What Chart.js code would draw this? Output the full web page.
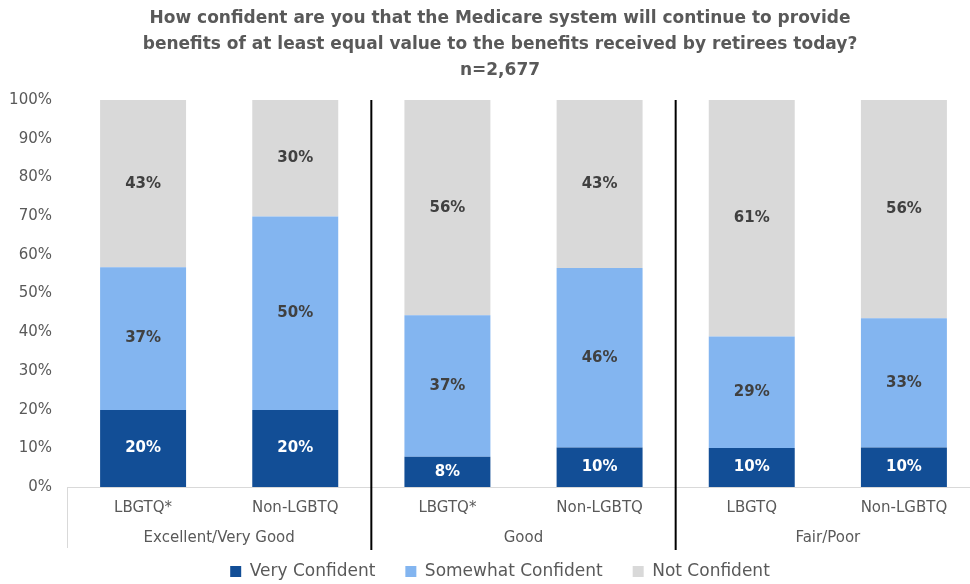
<!DOCTYPE html>
<html>
<head>
<meta charset="utf-8">
<script src="https://cdn.jsdelivr.net/npm/chart.js@4"></script>
<style>
  html, body { margin: 0; padding: 0; overflow: hidden; background: #fff; }
  #wrap { width: 980px; height: 584px; }
</style>
</head>
<body>
<div id="wrap"><canvas id="confChart"></canvas></div>
<script>
const categories = ["LBGTQ*", "Non-LGBTQ", "LBGTQ*", "Non-LGBTQ", "LBGTQ", "Non-LGBTQ"];
const groups = ["Excellent/Very Good", "Good", "Fair/Poor"];
const veryConfident = [19.9, 19.9, 7.8, 10.2, 10.1, 10.2];
const somewhatConfident = [36.9, 50.0, 36.6, 46.4, 28.8, 33.4];
const notConfident = [43.2, 30.1, 55.6, 43.4, 61.1, 56.4];

Chart.defaults.font.family = "'DejaVu Sans', sans-serif";
Chart.defaults.color = "#595959";

// percentage labels in the middle of each segment
const barLabels = {
  id: "barLabels",
  afterDatasetsDraw(chart) {
    const ctx = chart.ctx;
    ctx.save();
    ctx.font = "bold 15px 'DejaVu Sans'";
    ctx.textAlign = "center";
    ctx.textBaseline = "middle";
    chart.data.datasets.forEach((ds, i) => {
      chart.getDatasetMeta(i).data.forEach((bar, j) => {
        ctx.fillStyle = i === 0 ? "#ffffff" : "#404040";
        ctx.fillText(Math.round(ds.data[j]) + "%", bar.x, (bar.y + bar.base) / 2);
      });
    });
    ctx.restore();
  },
};

// second row of x labels + separators between groups
const groupAxis = {
  id: "groupAxis",
  afterLayout(chart) {
    // let "100%" run past the left padding instead of being clipped
    chart.scales.y._computeLabelArea = () => undefined;
  },
  afterDraw(chart) {
    const { ctx, chartArea } = chart;
    const x = chart.scales.x;
    const bottom = chartArea.bottom;
    ctx.save();
    ctx.strokeStyle = "#d9d9d9";
    ctx.lineWidth = 1;
    ctx.beginPath();
    ctx.moveTo(chartArea.left + 0.5, bottom);
    ctx.lineTo(chartArea.left + 0.5, bottom + 61);
    ctx.stroke();

    ctx.strokeStyle = "#000000";
    ctx.lineWidth = 2;
    [1, 3].forEach((i) => {
      const sx = (x.getPixelForValue(i) + x.getPixelForValue(i + 1)) / 2;
      ctx.beginPath();
      ctx.moveTo(sx, chartArea.top);
      ctx.lineTo(sx, bottom + 63);
      ctx.stroke();
    });

    ctx.fillStyle = "#595959";
    ctx.font = "15px 'DejaVu Sans'";
    ctx.textAlign = "center";
    ctx.textBaseline = "middle";
    groups.forEach((g, k) => {
      const cx = (x.getPixelForValue(2 * k) + x.getPixelForValue(2 * k + 1)) / 2;
      ctx.fillText(g, cx, bottom + 51);
    });
    ctx.restore();
  },
};

new Chart(document.getElementById("confChart"), {
  type: "bar",
  data: {
    labels: categories,
    datasets: [
      { label: "Very Confident", data: veryConfident, backgroundColor: "#124e96" },
      { label: "Somewhat Confident", data: somewhatConfident, backgroundColor: "#83b5f0" },
      { label: "Not Confident", data: notConfident, backgroundColor: "#d9d9d9" },
    ],
  },
  options: {
    responsive: true,
    maintainAspectRatio: false,
    animation: false,
    layout: { padding: { left: 20, top: 0, right: 0, bottom: 0 } },
    datasets: { bar: { categoryPercentage: 1, barPercentage: 0.565 } },
    scales: {
      x: {
        stacked: true,
        grid: { display: false, drawTicks: false },
        border: { color: "#d9d9d9" },
        ticks: { padding: 12, font: { size: 15 }, color: "#595959" },
        afterFit: (scale) => { scale.height = 46; },
      },
      y: {
        stacked: true,
        min: 0,
        max: 100,
        grid: { display: false, drawTicks: false },
        border: { display: false },
        ticks: { stepSize: 10, padding: 15, font: { size: 15 }, color: "#595959", callback: (v) => v + "%" },
        afterFit: (scale) => { scale.width = 47; },
      },
    },
    plugins: {
      title: {
        display: true,
        text: [
          "How confident are you that the Medicare system will continue to provide",
          "benefits of at least equal value to the benefits received by retirees today?",
          "n=2,677",
        ],
        color: "#595959",
        font: { size: 17, weight: "bold", lineHeight: 1.55 },
        padding: { top: 5, bottom: 16 },
      },
      legend: {
        position: "bottom",
        maxHeight: 51,
        labels: { boxWidth: 11, boxHeight: 11, padding: 30, font: { size: 17 }, color: "#595959" },
      },
      tooltip: { enabled: false },
    },
  },
  plugins: [barLabels, groupAxis],
});
</script>
</body>
</html>
